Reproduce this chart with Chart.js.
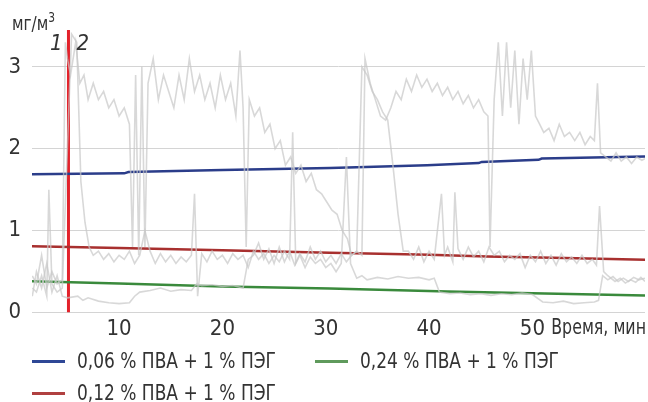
<!DOCTYPE html>
<html>
<head>
<meta charset="utf-8">
<script src="https://cdn.jsdelivr.net/npm/chart.js@4.4.1/dist/chart.umd.min.js"></script>
<style>
  body { margin: 0; background: #fff; }
  #wrap { position: relative; width: 648px; height: 402px; font-family: 'Liberation Sans Narrow', 'DejaVu Sans Condensed', Roboto, sans-serif; color: #333; }
  #unit { position: absolute; left: 12px; top: 9px; font-size: 20px; transform: scaleX(0.85); transform-origin: left; }
  #unit sup { font-size: 14px; }
  .leg { position: absolute; font-size: 22px; line-height: 22px; white-space: nowrap; }
  .leg i { position: absolute; width: 33px; height: 3px; }
  .leg span { display: inline-block; margin-left: 45px; transform: scaleX(0.86); transform-origin: left; }
</style>
</head>
<body>
<div id="wrap">
  <canvas id="chart" width="648" height="402"></canvas>
  <div id="unit">мг/м<sup>3</sup></div>
  <div id="legend"></div>
</div>
<script>
// time, min
const xTicks = [10, 20, 30, 40, 50];
const yTicks = [0, 1, 2, 3];
const seriesNames = ['0,06 % ПВА + 1 % ПЭГ', '0,24 % ПВА + 1 % ПЭГ', '0,12 % ПВА + 1 % ПЭГ'];

// trend lines
const blueT = [1.57, 10.5, 10.9, 20, 30.4, 33, 39.8, 44.8, 45.1, 50.6, 50.9, 60.9];
const blueV = [1.69, 1.70, 1.715, 1.74, 1.765, 1.775, 1.80, 1.825, 1.84, 1.865, 1.88, 1.905];
const redT = [1.57, 10, 20, 30.4, 40, 45.6, 52, 60.9];
const redV = [0.81, 0.79, 0.76, 0.73, 0.705, 0.685, 0.67, 0.645];
const greenT = [1.57, 10, 20, 30.4, 41.8, 50, 60.9];
const greenV = [0.383, 0.355, 0.32, 0.295, 0.257, 0.235, 0.208];

// marker line (curves 1 / 2)
const markT = 5.1;
const markTop = 3.45;

// raw measurements (grey)
const grayAT = [1.6, 2, 2.5, 3, 3.5, 4, 4.5, 4.8, 5.0, 5.3, 5.8, 6.2, 6.6, 7, 7.5, 8, 8.5, 9, 9.5, 10, 10.5, 11, 11.3, 11.6, 11.9, 12.2, 12.5, 12.8,
  13.3, 13.8, 14.3, 14.8, 15.3, 15.8, 16.3, 16.8, 17.3, 17.8, 18.3, 18.8, 19.3, 19.8, 20.3, 20.8, 21.3, 21.7, 22.0, 22.3, 22.6,
  23.1, 23.6, 24.1, 24.6, 25.1, 25.6, 26.1, 26.6, 27.1, 27.6, 28.1, 28.6, 29.1, 29.6, 30.1, 30.6, 31.1, 31.6, 32.1, 32.5, 33, 33.5,
  33.8, 34.3, 34.8, 35.3, 35.8, 36.3, 36.8, 37.3, 37.8, 38.3, 38.8, 39.3, 39.8, 40.3, 40.8, 41.3, 41.8, 42.3, 42.8, 43.3, 43.8, 44.3, 44.8, 45.3, 45.7,
  45.9, 46.3, 46.7, 47.1, 47.5, 47.9, 48.3, 48.7, 49.1, 49.5, 49.9, 50.3, 50.7, 51.1, 51.6, 52.1, 52.6, 53.1, 53.6, 54.1, 54.6, 55.1, 55.6, 56.0, 56.3,
  56.6, 57.1, 57.6, 58.1, 58.6, 59.1, 59.6, 60.1, 60.6, 60.9];
const grayAV = [0.45, 0.35, 0.7, 0.3, 0.5, 0.35, 0.4, 3.3, 3.1, 2.9, 3.3, 2.8, 2.9, 2.6, 2.8, 2.6, 2.7, 2.5, 2.6, 2.4, 2.5, 2.3, 0.8, 2.9, 0.7, 3.0, 0.8, 2.8,
  3.1, 2.6, 2.9, 2.7, 2.5, 2.9, 2.6, 3.1, 2.7, 2.9, 2.6, 2.8, 2.5, 2.9, 2.6, 2.8, 2.4, 3.2, 2.5, 0.8, 2.6,
  2.4, 2.5, 2.2, 2.3, 2.0, 2.1, 1.8, 1.9, 1.7, 1.8, 1.6, 1.7, 1.5, 1.45, 1.35, 1.25, 1.2, 1.0, 0.9, 0.7, 0.75, 0.7,
  3.1, 2.8, 2.6, 2.4, 2.35, 2.5, 2.7, 2.6, 2.85, 2.7, 2.9, 2.75, 2.85, 2.7, 2.8, 2.65, 2.75, 2.6, 2.7, 2.55, 2.65, 2.5, 2.6, 2.45, 2.4,
  0.8, 2.6, 3.3, 2.4, 3.3, 2.5, 3.2, 2.3, 3.1, 2.6, 3.2, 2.4, 2.3, 2.2, 2.25, 2.1, 2.3, 2.15, 2.2, 2.1, 2.2, 2.05, 2.15, 2.1, 2.8,
  1.95, 1.9, 1.85, 1.95, 1.85, 1.9, 1.82, 1.9, 1.86, 1.88];

const grayBT = [1.6, 2, 2.5, 3, 3.2, 3.5, 4, 4.5, 5.4, 5.9, 6.3, 6.7, 7.1, 7.5, 8, 8.5, 9, 9.5, 10, 10.5, 11, 11.5, 12, 12.5, 13, 13.5, 14, 14.5,
  15, 15.5, 16, 16.5, 17, 17.3, 17.6, 18, 18.5, 19, 19.5, 20, 20.5, 21, 21.5, 22, 22.5, 23, 23.5, 24, 24.5, 25, 25.5, 26, 26.5, 26.8,
  27.1, 27.5, 28, 28.5, 29, 29.5, 30, 30.5, 31, 31.5, 32, 32.4, 33, 33.5, 34, 35, 36, 37, 38, 39, 40, 40.5, 41, 42, 43, 44, 45, 46,
  47, 48, 49, 50, 51, 52, 53, 54, 55, 56, 56.4, 56.8, 57.3, 57.8, 58.3, 58.8, 59.3, 59.8, 60.3, 60.9];
const grayBV = [0.3, 0.25, 0.45, 0.2, 1.5, 0.35, 0.25, 0.3, 3.4, 3.3, 1.6, 1.1, 0.8, 0.7, 0.75, 0.65, 0.72, 0.62, 0.7, 0.65, 0.75, 0.6, 0.7, 1.0, 0.75, 0.6, 0.72, 0.62,
  0.7, 0.6, 0.68, 0.62, 0.7, 1.45, 0.2, 0.72, 0.62, 0.75, 0.65, 0.7, 0.6, 0.72, 0.65, 0.7, 0.55, 0.75, 0.65, 0.72, 0.6, 0.7, 0.62, 0.75, 0.65, 2.2,
  0.6, 0.7, 0.55, 0.68, 0.6, 0.65, 0.55, 0.6, 0.5, 0.6, 1.9, 0.6, 0.42, 0.45, 0.4, 0.43, 0.41, 0.44, 0.42, 0.43, 0.4, 0.42, 0.25, 0.23, 0.24, 0.22, 0.23, 0.21,
  0.23, 0.22, 0.24, 0.22, 0.13, 0.12, 0.14, 0.11, 0.12, 0.13, 0.15, 0.45, 0.4, 0.44, 0.38, 0.42, 0.38, 0.43, 0.4, 0.42];

const grayCT = [1.6, 2, 2.5, 3, 3.5, 4, 4.5, 5, 6, 6.5, 7, 8, 9, 10, 11, 11.5, 12, 13, 14, 15, 16, 17, 17.5, 18, 19, 20, 21, 22, 22.5,
  23, 23.5, 24, 24.5, 25, 25.5, 26, 26.5, 27, 27.5, 28, 28.5, 29, 29.5, 30, 30.5, 31, 31.5, 32, 32.5, 33, 33.5, 34, 34.5, 35, 35.5, 36,
  36.5, 37, 37.5, 38, 38.5, 39, 39.5, 40, 40.5, 41.2, 41.5, 41.8, 42.3, 42.5, 42.8, 43.3, 43.8, 44.3, 44.8, 45.3, 45.8, 46.3, 46.8, 47.3, 47.8,
  48.3, 48.8, 49.3, 49.8, 50.3, 50.8, 51.3, 51.8, 52.3, 52.8, 53.3, 53.8, 54.3, 54.8, 55.3, 55.8, 56.2, 56.5, 56.9, 57.3, 58, 58.5, 59, 59.5, 60, 60.5, 60.9];
const grayCV = [0.2, 0.5, 0.3, 0.6, 0.25, 0.45, 0.2, 0.18, 0.2, 0.15, 0.18, 0.14, 0.12, 0.11, 0.12, 0.2, 0.25, 0.27, 0.3, 0.26, 0.28, 0.27, 0.35, 0.33, 0.34, 0.32, 0.33, 0.3, 0.65,
  0.7, 0.85, 0.65, 0.78, 0.6, 0.8, 0.62, 0.75, 0.58, 0.72, 0.62, 0.8, 0.65, 0.75, 0.62, 0.7, 0.6, 0.72, 0.62, 0.7, 0.75, 3.0, 2.9, 2.7, 2.6, 2.45, 2.35,
  1.8, 1.2, 0.75, 0.75, 0.65, 0.8, 0.62, 0.75, 0.65, 1.45, 0.7, 0.8, 0.62, 1.47, 0.78, 0.65, 0.8, 0.68, 0.75, 0.62, 0.8, 0.7, 0.75, 0.62, 0.7,
  0.65, 0.72, 0.55, 0.7, 0.62, 0.75, 0.6, 0.7, 0.58, 0.72, 0.62, 0.68, 0.6, 0.7, 0.6, 0.65, 0.58, 1.3, 0.5, 0.45, 0.38, 0.42, 0.36, 0.4, 0.37, 0.43, 0.38];

const FONT = "'Liberation Sans Narrow', 'DejaVu Sans Condensed', Roboto, sans-serif";
const pts = (t, v) => t.map((x, i) => ({ x: x, y: v[i] }));
const grayStyle = { borderColor: 'rgba(200,200,200,0.7)', borderWidth: 1.6 };

const labelsPlugin = {
    id: 'extraText',
    afterDraw(chart) {
        const ctx = chart.ctx;
        const x = chart.scales.x;
        const y = chart.scales.y;
        const mx = x.getPixelForValue(markT);
        ctx.save();
        ctx.fillStyle = '#333';
        ctx.font = 'italic 22px ' + FONT;
        ctx.textBaseline = 'middle';
        ctx.textAlign = 'right';
        ctx.fillText('1', mx - 6, 44);
        ctx.textAlign = 'left';
        ctx.fillText('2', mx + 8, 44);
        // axis title sits on the tick label row
        ctx.font = '22px ' + FONT;
        ctx.textAlign = 'right';
        ctx.translate(chart.chartArea.right + 1, y.bottom + 16);
        ctx.scale(0.8, 1);
        ctx.fillText('Время, мин', 0, 0);
        ctx.restore();
    }
};

new Chart(document.getElementById('chart'), {
    type: 'line',
    data: {
        datasets: [
            { data: pts(grayAT, grayAV), ...grayStyle },
            { data: pts(grayBT, grayBV), ...grayStyle },
            { data: pts(grayCT, grayCV), ...grayStyle },
            { label: seriesNames[0], data: pts(blueT, blueV), borderColor: '#2b3d8a', borderWidth: 2.5 },
            { label: seriesNames[2], data: pts(redT, redV), borderColor: '#a8302f', borderWidth: 2.5 },
            { label: seriesNames[1], data: pts(greenT, greenV), borderColor: '#3a8a3c', borderWidth: 2.5 },
            { data: [{ x: markT, y: 0 }, { x: markT, y: markTop }], borderColor: '#e3222b', borderWidth: 3 }
        ]
    },
    options: {
        responsive: false,
        animation: false,
        layout: { padding: { top: 30, right: 3, bottom: 57, left: 0 } },
        elements: { point: { radius: 0 }, line: { tension: 0 } },
        plugins: { legend: { display: false }, tooltip: { enabled: false } },
        scales: {
            x: {
                type: 'linear', min: 1.57, max: 60.9,
                afterBuildTicks: (ax) => { ax.ticks = xTicks.map(v => ({ value: v })); },
                grid: { display: false, drawTicks: false },
                border: { display: false },
                ticks: { color: '#333', font: { family: FONT, size: 22 }, padding: 3, maxRotation: 0 }
            },
            y: {
                min: 0, max: markTop,
                afterBuildTicks: (ax) => { ax.ticks = yTicks.map(v => ({ value: v })); },
                afterFit: (ax) => { ax.width = 32; },
                grid: { color: '#d4d4d4', lineWidth: 1, drawTicks: false },
                border: { display: false },
                ticks: { color: '#333', font: { family: FONT, size: 22 }, padding: 11 }
            }
        }
    },
    plugins: [labelsPlugin]
});

// legend
const legendItems = [
    { name: seriesNames[0], color: '#2e4796', left: 32, top: 361 },
    { name: seriesNames[1], color: '#5f9a5c', left: 315, top: 361 },
    { name: seriesNames[2], color: '#b04040', left: 32, top: 393 }
];
const legend = document.getElementById('legend');
legendItems.forEach(it => {
    const d = document.createElement('div');
    d.className = 'leg';
    d.style.left = it.left + 'px';
    d.style.top = (it.top - 11) + 'px';
    d.innerHTML = '<i style="left:0;top:10px;background:' + it.color + '"></i><span>' + it.name + '</span>';
    legend.appendChild(d);
});
</script>
</body>
</html>
